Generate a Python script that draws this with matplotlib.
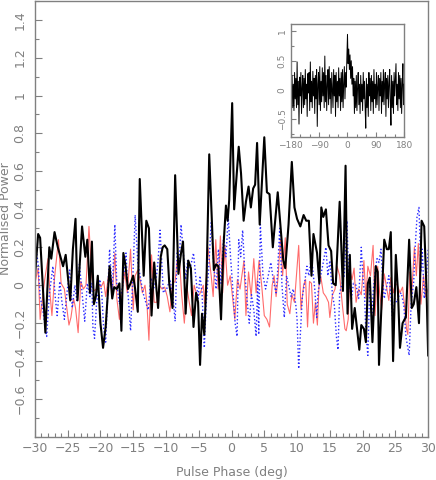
import numpy as np
import matplotlib
matplotlib.use("Agg")
import matplotlib.pyplot as plt
from matplotlib.ticker import MultipleLocator, FixedLocator, FuncFormatter

# main panel: on-pulse black, off-pulse controls red / blue dotted
black_phase = [-30.0, -29.5, -29.2, -28.4, -27.8, -27.5, -27.0, -26.5, -25.7, -25.3,
               -24.6, -24.2, -23.8, -23.5, -22.8, -22.3, -22.0, -21.6, -21.3, -21.0,
               -20.7, -20.4, -20.0, -19.6, -19.2, -18.6, -18.2, -17.9, -17.5, -17.1,
               -16.8, -16.5, -16.2, -15.8, -15.4, -15.0, -14.7, -14.3, -14.0, -13.4,
               -13.0, -12.6, -12.2, -11.8, -11.5, -11.2, -10.8, -10.5, -10.2, -9.8,
               -9.5, -9.0, -8.6, -8.1, -7.7, -7.4, -7.0, -6.6, -6.2, -5.8,
               -5.4, -5.1, -4.8, -4.5, -4.15, -3.8, -3.4, -2.7, -2.35, -2.0,
               -1.6, -1.2, -0.85, -0.6, -0.35, 0.1, 0.4, 1.1, 1.45, 1.85,
               2.2, 2.6, 2.95, 3.3, 3.6, 3.9, 4.3, 5.0, 5.4, 5.8,
               6.3, 7.05, 7.5, 7.9, 8.2, 8.7, 9.2, 9.6, 10.0, 10.5,
               11.0, 11.4, 11.8, 12.2, 12.5, 13.05, 13.4, 13.7, 14.0, 14.4,
               14.8, 15.2, 15.5, 15.9, 16.5, 17.0, 17.4, 17.7, 18.05, 18.4,
               18.8, 19.5, 19.8, 20.2, 20.5, 20.8, 21.1, 21.5, 22.0, 22.3,
               22.5, 23.3, 23.7, 24.0, 24.3, 24.65, 25.07, 25.4, 25.7, 26.1,
               26.4, 26.6, 27.1, 27.5, 27.8, 28.2, 28.6, 29.0, 29.4, 29.75, 30.0]
black_power = [0.04, 0.27, 0.25, -0.25, 0.2, 0.14, 0.28, 0.2, 0.1, 0.16,
               -0.08, 0.19, 0.35, -0.08, 0.31, 0.15, 0.24, -0.04, 0.23, -0.1,
               -0.06, 0.05, -0.2, -0.33, -0.22, 0.1, -0.07, -0.01, -0.02, 0.01,
               -0.24, 0.17, 0.11, -0.02, 0.01, 0.05, -0.02, -0.14, 0.56, 0.05,
               0.34, 0.3, -0.16, 0.12, 0.0, -0.12, 0.15, 0.2, 0.21, 0.19,
               0.01, -0.12, 0.58, 0.06, 0.17, 0.23, -0.15, 0.13, 0.09, -0.22,
               -0.04, -0.09, -0.42, -0.15, -0.26, 0.05, 0.69, 0.08, 0.11, 0.1,
               -0.18, 0.22, 0.42, 0.34, 0.45, 0.96, 0.4, 0.73, 0.59, 0.34,
               0.44, 0.52, 0.41, 0.51, 0.53, 0.75, 0.32, 0.78, 0.49, 0.48,
               0.2, 0.49, 0.3, 0.13, 0.09, 0.32, 0.65, 0.41, 0.35, 0.31,
               0.37, 0.34, 0.34, 0.05, 0.27, 0.17, 0.01, 0.41, 0.36, 0.4,
               0.21, 0.18, 0.01, 0.0, 0.44, -0.03, 0.63, -0.15, 0.16, -0.23,
               -0.12, -0.34, -0.21, -0.23, -0.3, 0.01, 0.04, -0.3, 0.1, 0.07,
               -0.42, 0.24, 0.19, 0.19, 0.28, -0.4, 0.16, -0.04, -0.33, -0.2,
               -0.18, -0.17, 0.24, -0.12, -0.1, -0.01, -0.2, 0.34, 0.31, -0.02, -0.37]

red_phase = [-30.0, -29.5, -29.2, -28.5, -28.0, -27.7, -27.4, -27.0, -26.4, -26.0,
             -25.5, -24.8, -24.5, -24.1, -23.8, -23.4, -23.0, -22.6, -22.2, -21.75,
             -21.3, -21.0, -20.6, -20.2, -19.9, -19.5, -19.2, -18.6, -18.2, -17.8,
             -17.5, -17.1, -16.7, -16.3, -15.9, -15.4, -15.0, -14.7, -14.3, -13.9,
             -13.6, -13.2, -12.9, -12.6, -12.2, -11.8, -11.4, -11.0, -10.6, -10.2,
             -9.8, -9.4, -9.0, -8.6, -8.3, -7.9, -7.6, -7.2, -6.8, -6.5,
             -6.1, -5.7, -5.3, -4.9, -4.65, -4.3, -4.1, -3.6, -3.1, -2.8,
             -2.4, -2.05, -1.7, -1.35, -1.0, -0.6, -0.2, 0.15, 0.5, 0.9,
             1.3, 1.9, 2.2, 2.6, 3.0, 3.4, 3.75, 4.2, 4.6, 5.0,
             5.4, 5.8, 6.2, 6.5, 6.8, 7.1, 7.45, 7.8, 8.2, 8.5,
             8.9, 9.2, 9.6, 10.25, 10.6, 11.0, 11.3, 11.6, 11.9, 12.2,
             12.5, 12.8, 13.1, 13.35, 13.6, 14.0, 14.4, 14.8, 15.0, 15.4,
             15.8, 16.1, 16.5, 16.9, 17.3, 17.5, 17.8, 18.05, 18.4, 18.7,
             19.0, 19.4, 19.8, 20.2, 20.5, 20.8, 21.2, 21.6, 21.9, 22.3,
             22.6, 22.9, 23.3, 23.7, 24.0, 24.3, 24.7, 25.0, 25.3, 25.7,
             26.1, 26.4, 26.7, 26.9, 27.2, 27.5, 27.9, 28.2, 28.5, 28.9,
             29.3, 29.6, 30.0]
red_power = [0.01, 0.09, -0.18, 0.03, 0.14, -0.04, -0.16, 0.04, 0.24, 0.01,
             -0.02, -0.21, -0.17, -0.07, -0.12, -0.25, 0.02, -0.02, 0.0, 0.31,
             0.04, -0.03, -0.02, 0.0, -0.01, 0.02, -0.06, 0.09, -0.06, 0.17,
             -0.07, -0.18, -0.04, 0.07, -0.04, 0.19, -0.13, 0.05, 0.08, 0.02,
             -0.04, 0.0, -0.1, -0.29, 0.16, -0.09, -0.09, 0.0, -0.02, -0.01,
             -0.06, -0.14, 0.01, 0.02, 0.13, 0.11, -0.05, -0.2, -0.01, -0.08,
             -0.16, 0.0, -0.05, -0.05, -0.03, 0.0, -0.1, 0.2, 0.05, -0.06,
             0.24, -0.02, 0.26, -0.04, 0.21, 0.0, 0.05, -0.06, -0.18, 0.03,
             -0.02, 0.13, -0.16, 0.07, -0.06, 0.14, -0.04, 0.13, 0.0, -0.16,
             -0.18, -0.22, 0.0, 0.05, -0.06, 0.04, 0.24, 0.05, 0.25, -0.1,
             -0.15, -0.05, -0.09, 0.21, -0.13, 0.0, 0.03, -0.22, 0.02, 0.01,
             -0.2, -0.09, -0.21, 0.0, 0.05, -0.04, -0.06, -0.09, -0.17, -0.05,
             -0.02, 0.1, 0.05, -0.1, -0.23, -0.24, -0.18, 0.08, 0.03, 0.09,
             -0.09, -0.02, -0.05, 0.13, -0.07, 0.1, 0.05, 0.21, -0.16, 0.1,
             -0.04, -0.13, 0.06, -0.02, -0.08, 0.04, -0.04, 0.01, 0.0, -0.04,
             -0.01, -0.11, -0.23, -0.26, 0.07, -0.04, 0.2, 0.05, 0.22, -0.1,
             0.05, -0.06, -0.02]

blue_phase = [-30.0, -29.5, -29.2, -28.8, -28.2, -27.8, -27.25, -26.9, -26.6, -26.2,
              -25.9, -25.5, -25.1, -24.7, -24.3, -23.9, -23.6, -23.2, -22.8, -22.4,
              -22.0, -21.6, -21.3, -21.15, -20.9, -20.6, -20.1, -19.8, -19.5, -19.2,
              -18.9, -18.6, -18.2, -17.8, -17.5, -17.1, -16.6, -16.1, -15.8, -15.4,
              -15.1, -14.7, -14.3, -13.9, -13.5, -13.0, -12.7, -12.3, -11.9, -11.5,
              -11.2, -10.9, -10.4, -9.9, -9.4, -9.0, -8.6, -8.3, -8.0, -7.7,
              -7.4, -7.0, -6.7, -6.3, -5.8, -5.5, -5.1, -4.8, -4.5, -4.15,
              -3.9, -3.5, -3.1, -2.7, -2.35, -2.0, -1.6, -1.2, -0.85, -0.5,
              -0.15, 0.2, 0.55, 0.85, 1.1, 1.4, 1.7, 2.05, 2.4, 2.7,
              3.05, 3.4, 3.75, 4.0, 4.15, 4.4, 4.8, 5.2, 5.6, 6.0,
              6.4, 6.8, 7.0, 7.35, 7.7, 8.05, 8.4, 8.7, 9.1, 9.4,
              9.8, 10.0, 10.25, 10.5, 10.8, 11.1, 11.5, 11.8, 12.2, 12.4,
              12.7, 13.0, 13.2, 13.6, 14.0, 14.4, 14.7, 15.0, 15.4, 15.7,
              16.0, 16.25, 16.5, 16.8, 17.2, 17.6, 17.9, 18.3, 18.6, 19.0,
              19.4, 19.8, 20.0, 20.3, 20.5, 20.8, 21.1, 21.4, 21.6, 21.9,
              22.2, 22.5, 22.8, 23.0, 23.3, 23.6, 24.0, 24.3, 24.6, 24.9,
              25.2, 25.6, 25.9, 26.3, 26.6, 27.1, 27.4, 27.8, 28.0, 28.3,
              28.6, 28.9, 29.1, 29.4, 29.7, 30.0]
blue_power = [0.24, 0.11, -0.06, -0.13, -0.27, -0.05, 0.1, -0.06, -0.16, 0.02,
              -0.08, -0.18, -0.04, 0.08, -0.12, 0.0, -0.08, 0.11, -0.04, -0.19,
              0.01, -0.06, 0.01, -0.22, -0.28, -0.1, 0.03, -0.04, -0.23, -0.3,
              -0.06, 0.19, -0.04, 0.32, 0.0, -0.1, 0.0, 0.17, -0.04, -0.24,
              0.0, 0.37, 0.12, 0.04, -0.04, -0.1, -0.13, 0.04, -0.02, 0.03,
              0.13, 0.29, -0.04, -0.02, 0.03, -0.04, -0.19, 0.17, 0.11, 0.32,
              0.19, 0.03, 0.13, 0.09, 0.17, 0.06, -0.07, 0.05, -0.04, -0.33,
              -0.12, 0.08, 0.33, 0.1, -0.02, 0.19, 0.01, 0.26, 0.15, 0.36,
              0.15, -0.02, -0.2, -0.27, 0.24, 0.15, 0.29, 0.05, -0.09, -0.2,
              -0.05, -0.13, -0.27, 0.02, -0.26, 0.32, 0.05, -0.02, 0.05, 0.12,
              0.02, -0.04, 0.05, 0.3, 0.0, -0.17, 0.05, 0.0, -0.06, -0.02,
              -0.1, -0.18, -0.44, -0.26, -0.06, 0.0, 0.1, 0.05, 0.15, 0.08,
              -0.02, -0.17, -0.04, 0.05, 0.12, 0.2, 0.05, 0.13, -0.05, -0.11,
              -0.27, -0.34, -0.04, 0.0, 0.05, 0.34, 0.02, -0.07, 0.01, 0.0,
              -0.07, 0.2, 0.07, -0.06, -0.25, -0.37, 0.01, -0.2, -0.04, 0.07,
              0.14, 0.12, 0.19, 0.07, -0.07, -0.02, 0.05, -0.05, -0.2, -0.07,
              -0.09, -0.05, -0.04, -0.11, -0.27, -0.37, -0.1, 0.02, 0.19, 0.36,
              0.41, 0.07, 0.19, -0.07, 0.02, 0.19]

# inset: full rotation, 2 deg bins
inset_power = [0.55, -0.2, 0.25, -0.3, 0.1, -0.35, 0.3, -0.15, 0.2, -0.3,
               0.48, -0.25, 0.15, -0.58, 0.22, -0.1, 0.3, -0.4, 0.05, 0.25,
               -0.3, 0.2, -0.25, 0.35, -0.15, 0.1, -0.45, 0.28, -0.05, 0.3,
               -0.35, 0.48, -0.2, 0.15, -0.3, 0.32, -0.1, 0.2, -0.4, 0.25,
               -0.15, 0.35, -0.62, 0.1, 0.3, -0.25, 0.4, -0.35, 0.15, -0.2,
               0.38, -0.1, 0.3, -0.3, 0.58, -0.2, 0.25, -0.35, 0.1, 0.35,
               -0.25, 0.4, -0.15, 0.2, -0.4, 0.3, 0.0, -0.3, 0.35, -0.1,
               0.25, -0.45, 0.3, -0.2, 0.15, -0.3, 0.38, -0.1, 0.2, -0.35,
               0.3, -0.2, 0.35, -0.3, 0.1, 0.4, -0.15, 0.3, 0.05, 0.55,
               0.95, 0.45, 0.7, 0.35, 0.6, 0.2, 0.5, 0.1, 0.4, -0.1,
               0.2, -0.4, 0.15, -0.3, 0.25, -0.35, 0.05, 0.3, -0.25, 0.1,
               -0.4, 0.25, -0.2, 0.1, -0.35, 0.3, -0.15, 0.15, -0.3, -0.65,
               0.2, -0.3, 0.1, -0.45, 0.3, -0.1, 0.2, -0.35, 0.25, -0.2,
               0.15, -0.4, 0.35, -0.15, 0.1, -0.3, 0.3, -0.25, 0.05, 0.25,
               -0.35, 0.2, -0.1, 0.3, -0.4, 0.15, -0.2, 0.35, -0.25, 0.1,
               0.3, -0.45, 0.2, -0.15, 0.25, -0.3, 0.1, 0.35, -0.2, -0.6,
               0.25, -0.3, 0.15, -0.4, 0.3, -0.1, 0.2, 0.45, -0.25, 0.1,
               -0.35, 0.3, -0.15, 0.25, -0.3, 0.2, -0.4, 0.1, 0.45, -0.25,
               0.1]
inset_phase = np.linspace(-180, 180, len(inset_power))

grey = "#808080"


def fmt(v, pos):
    return ("%g" % round(v, 2)).replace("-", "\u2212")


def style(ax, size, major, minor):
    for s in ax.spines.values():
        s.set_color(grey)
        s.set_linewidth(1.0)
    ax.tick_params(which="both", direction="in", colors=grey, labelcolor=grey,
                   top=False, right=False, labelsize=size)
    ax.tick_params(which="major", length=major, width=0.8)
    ax.tick_params(which="minor", length=minor, width=0.8)
    ax.tick_params(axis="y", labelrotation=90)
    ax.xaxis.set_major_formatter(FuncFormatter(fmt))
    ax.yaxis.set_major_formatter(FuncFormatter(fmt))
    for lab in ax.get_yticklabels():
        lab.set_va("center")


fig = plt.figure(figsize=(4.36, 4.8), dpi=100)
ax = fig.add_axes([0.080, 0.0896, 0.902, 0.909])

ax.plot(red_phase, red_power, color="#ff3a3a", lw=0.8, alpha=0.75)
ax.plot(blue_phase, blue_power, color="#2a2aff", lw=1.0, ls=(0, (1, 1.6)))
ax.plot(black_phase, black_power, color="black", lw=1.5)

ax.set_xlim(-30, 30)
ax.set_ylim(-0.8, 1.5)
ax.xaxis.set_major_locator(MultipleLocator(5))
ax.xaxis.set_minor_locator(MultipleLocator(1))
ax.yaxis.set_major_locator(FixedLocator(np.round(np.arange(-0.6, 1.41, 0.2), 2)))
ax.yaxis.set_minor_locator(MultipleLocator(0.1))
style(ax, 9, 5, 3)
ax.tick_params(axis="y", pad=6)
ax.set_xlabel("Pulse Phase (deg)", color=grey, fontsize=9, labelpad=8)
ax.set_ylabel("Normalised Power", color=grey, fontsize=9)
ax.yaxis.set_label_coords(-0.058, 0.5)

ins = fig.add_axes([0.667, 0.7146, 0.26, 0.2346])
ins.plot(inset_phase, inset_power, color="black", lw=0.7)
ins.set_xlim(-180, 180)
ins.set_ylim(-0.8, 1.12)
ins.xaxis.set_major_locator(FixedLocator([-180, -90, 0, 90, 180]))
ins.xaxis.set_minor_locator(MultipleLocator(30))
ins.yaxis.set_major_locator(FixedLocator([-0.5, 0, 0.5, 1]))
ins.yaxis.set_minor_locator(MultipleLocator(0.25))
style(ins, 6.5, 3.5, 2)
ins.tick_params(axis="y", pad=3)
ins.tick_params(axis="x", pad=3)

fig.savefig("out.png", dpi=100)
